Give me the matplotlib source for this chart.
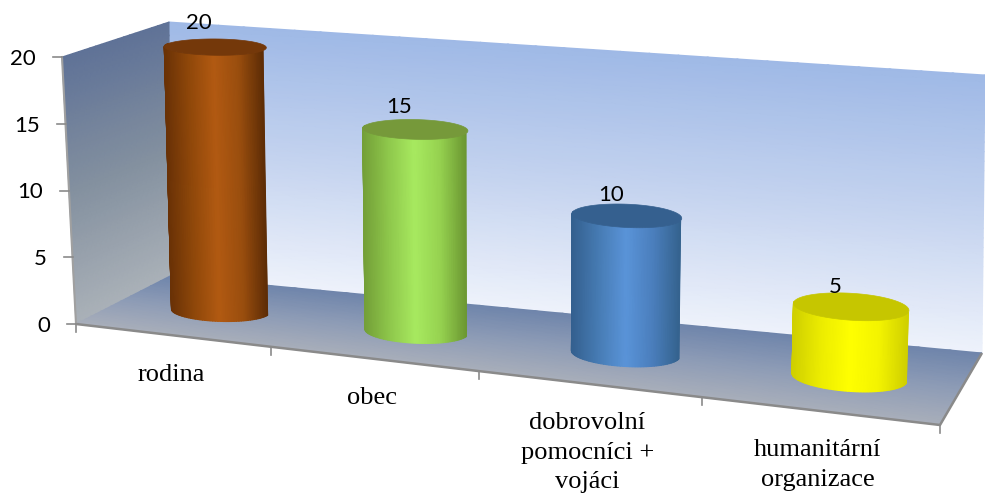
import numpy as np
import matplotlib
matplotlib.use('Agg')
import matplotlib.pyplot as plt
from matplotlib.colors import LinearSegmentedColormap

categories = ['rodina', 'obec', 'dobrovolní\npomocníci +\nvojáci', 'humanitární\norganizace']
values = [20, 15, 10, 5]
value_ticks = [0, 5, 10, 15, 20]

side_colors = [
    ['#6a3206', '#90480a', '#b25a12', '#9a4e0e', '#5e2d06'],
    ['#74a038', '#8fc84c', '#a8ea60', '#96d250', '#6c9832'],
    ['#34608f', '#477cb4', '#5a94d9', '#4b7fbd', '#35638f'],
    ['#d0d000', '#eded00', '#ffff00', '#f4f400', '#d0d000'],
]
top_colors = ['#74380a', '#76993a', '#35608f', '#c6c600']

# corners of the plot box on screen: (category end, value end, depth end)
corners = {
    (0, 0, 0): (76, 324), (1, 0, 0): (940, 425),
    (0, 1, 0): (62, 57), (1, 1, 0): (955, 133),
    (0, 0, 1): (170, 276), (1, 0, 1): (982, 353),
    (0, 1, 1): (169, 22), (1, 1, 1): (985, 75),
}
n = len(categories)
vmax = 20
foreshorten = 1.143
radius_u = 0.245
radius_w = 0.195
bar_shift = 0.025


def project(u, v, w):
    # category position, value and depth to screen pixels
    u, v, w = np.asarray(u, float), np.asarray(v, float), np.asarray(w, float)
    a = u / (u + foreshorten * (n - u))
    b = v / vmax
    x = 0
    y = 0
    for (i, j, k), (px, py) in corners.items():
        weight = (a if i else 1 - a) * (b if j else 1 - b) * (w if k else 1 - w)
        x = x + weight * px
        y = y + weight * py
    return x, y


def gradient(ax, x, y, colors, zorder=1):
    t = np.linspace(0, 1, x.shape[0])[:, None] * np.ones_like(x)
    cmap = LinearSegmentedColormap.from_list('g', colors)
    ax.pcolormesh(x, y, t, cmap=cmap, vmin=0, vmax=1, shading='gouraud', zorder=zorder)


fig = plt.figure(figsize=(9.85, 4.97), dpi=100)
ax = fig.add_axes([0, 0, 1, 1])
ax.set_xlim(0, 985)
ax.set_ylim(497, 0)
ax.axis('off')

# back wall
vv, uu = np.meshgrid(np.linspace(vmax, 0, 30), np.linspace(0, n, 30), indexing='ij')
x, y = project(uu, vv, np.ones_like(uu))
gradient(ax, x, y, ['#9fb9e6', '#c4d3ef', '#eef2fb'])

# left wall
vv, ww = np.meshgrid(np.linspace(vmax, 0, 20), np.linspace(0, 1, 20), indexing='ij')
x, y = project(np.zeros_like(vv), vv, ww)
gradient(ax, x, y, ['#5f7297', '#83909f', '#aab1b8'])

# floor
ww, uu = np.meshgrid(np.linspace(1, 0, 20), np.linspace(0, n, 30), indexing='ij')
x, y = project(uu, np.zeros_like(uu), ww)
gradient(ax, x, y, ['#6f85ab', '#8e9cb6', '#a9afba'])

# floor edges and wall edge
x, y = project([0, n, n], [0, 0, 0], [0, 0, 1])
ax.plot(x, y, color='#8a8a8a', lw=1.8, zorder=2, solid_capstyle='butt')
x, y = project([0, 0], [0, vmax], [0, 0])
ax.plot(x, y, color='#a0a0a0', lw=1.5, zorder=2)

# value axis
for tick in value_ticks:
    x, y = project(0, tick, 0)
    ax.plot([x - 9, x], [y, y], color='#8a8a8a', lw=1.2, zorder=2)
    ax.text(x - 26, y + 2, str(tick), ha='right', va='center', fontsize=16,
            family='Lato', color='black')

# category axis
for i in range(n + 1):
    x, y = project(i, 0, 0)
    ax.plot([x, x], [y, y + 8], color='#8a8a8a', lw=1.2, zorder=2)

for i, name in enumerate(categories):
    x, y = project(i + 0.5, 0, 0)
    ax.text(x - 1, y + 28.5, name, ha='center', va='top', fontsize=19,
            family='Liberation Serif', color='black', linespacing=1.43)

# cylinders
theta = np.linspace(np.pi, 2 * np.pi, 60)
full = np.linspace(0, 2 * np.pi, 120)
for i, value in enumerate(values):
    c = i + 0.5 + bar_shift
    us = c + radius_u * np.cos(theta)
    ws = 0.5 + radius_w * np.sin(theta)
    x_top, y_top = project(us, np.full_like(us, value), ws)
    x_bot, y_bot = project(us, np.zeros_like(us), ws)
    xs = np.vstack([x_top, x_bot])
    ys = np.vstack([y_top, y_bot])
    shade = np.vstack([(x_top - x_top.min()) / (x_top.max() - x_top.min()),
                       (x_bot - x_bot.min()) / (x_bot.max() - x_bot.min())])
    cmap = LinearSegmentedColormap.from_list('side', side_colors[i])
    ax.pcolormesh(xs, ys, shade, cmap=cmap, vmin=0, vmax=1, shading='gouraud', zorder=3)

    x_cap, y_cap = project(c + radius_u * np.cos(full), np.full_like(full, value),
                           0.5 + radius_w * np.sin(full))
    ax.fill(x_cap, y_cap, color=top_colors[i], lw=0.5, zorder=4)

    # value label sits just behind the cap
    x_mid, _ = project(c, value, 0.5)
    _, y_back = project(c, value, 1.0)
    ax.text(x_mid - 16, y_back + 1 + (15 - value) * 1.2, str(value), ha='center', va='center',
            fontsize=16, family='Lato', color='black', zorder=5)

fig.savefig('out.png', dpi=100)
